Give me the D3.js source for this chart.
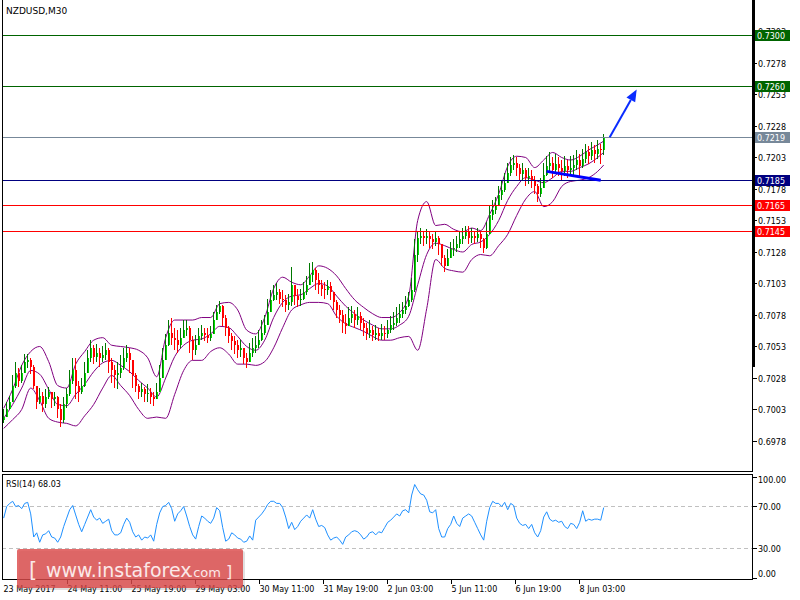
<!DOCTYPE html>
<html><head><meta charset="utf-8">
<script src="https://cdn.jsdelivr.net/npm/d3@7"></script>
<style>
body{margin:0;background:#fff}
svg{display:block}
text{font-family:"DejaVu Sans",sans-serif}
</style>
</head><body><svg id="c" width="800" height="600"></svg>
<script>
// ---------------- DATA ----------------
const symbol = "NZDUSD,M30";
const rsiTitle = "RSI(14) 68.03";
const firstOpen = 0.6995;
// one candle = 3 M30 bars (aggregated), 201 candles
const closes = [
0.6997,0.7003,0.7009,0.7022,0.7032,0.7026,0.7032,0.7041,0.7042,0.7037,
0.7022,0.7009,0.7014,0.7007,0.7013,0.7017,0.7011,0.7013,0.7003,0.6995,
0.7007,0.7015,0.7026,0.7034,0.7022,0.7017,0.7022,0.7032,0.7044,0.7052,
0.7045,0.7048,0.7044,0.7046,0.7050,0.7041,0.7034,0.7030,0.7032,0.7036,
0.7044,0.7048,0.7042,0.7030,0.7022,0.7017,0.7019,0.7015,0.7016,0.7013,
0.7011,0.7017,0.7028,0.7042,0.7054,0.7064,0.7060,0.7058,0.7054,0.7060,
0.7066,0.7068,0.7058,0.7050,0.7054,0.7061,0.7064,0.7062,0.7060,0.7063,
0.7074,0.7080,0.7085,0.7076,0.7068,0.7061,0.7057,0.7054,0.7050,0.7052,
0.7044,0.7041,0.7048,0.7052,0.7054,0.7058,0.7064,0.7070,0.7080,0.7090,
0.7094,0.7096,0.7091,0.7090,0.7086,0.7088,0.7102,0.7093,0.7090,0.7091,
0.7096,0.7102,0.7110,0.7114,0.7106,0.7102,0.7099,0.7098,0.7101,0.7096,
0.7088,0.7082,0.7078,0.7072,0.7069,0.7076,0.7079,0.7074,0.7077,0.7072,
0.7068,0.7064,0.7066,0.7062,0.7064,0.7061,0.7064,0.7063,0.7066,0.7070,
0.7072,0.7076,0.7079,0.7082,0.7085,0.7090,0.7098,0.7126,0.7139,0.7141,
0.7139,0.7141,0.7138,0.7136,0.7139,0.7134,0.7123,0.7117,0.7123,0.7130,
0.7131,0.7134,0.7138,0.7141,0.7144,0.7139,0.7141,0.7139,0.7142,0.7138,
0.7131,0.7142,0.7157,0.7161,0.7165,0.7173,0.7177,0.7183,0.7191,0.7197,
0.7199,0.7195,0.7190,0.7193,0.7187,0.7188,0.7185,0.7180,0.7174,0.7179,
0.7189,0.7196,0.7199,0.7193,0.7198,0.7195,0.7192,0.7196,0.7193,0.7195,
0.7197,0.7201,0.7196,0.7202,0.7207,0.7204,0.7209,0.7206,0.7210,0.7209,0.7219];
const highs = [
0.7003,0.7009,0.7014,0.7030,0.7041,0.7036,0.7038,0.7047,0.7047,0.7044,
0.7038,0.7022,0.7020,0.7017,0.7019,0.7021,0.7017,0.7017,0.7014,0.7007,
0.7013,0.7020,0.7034,0.7044,0.7044,0.7026,0.7028,0.7041,0.7050,0.7058,
0.7054,0.7055,0.7052,0.7053,0.7056,0.7052,0.7044,0.7038,0.7041,0.7046,
0.7052,0.7054,0.7052,0.7042,0.7032,0.7023,0.7024,0.7021,0.7023,0.7020,
0.7017,0.7024,0.7038,0.7052,0.7063,0.7074,0.7076,0.7068,0.7066,0.7068,
0.7074,0.7074,0.7069,0.7061,0.7062,0.7068,0.7070,0.7068,0.7068,0.7069,
0.7080,0.7086,0.7089,0.7086,0.7078,0.7069,0.7064,0.7061,0.7058,0.7058,
0.7052,0.7048,0.7056,0.7060,0.7061,0.7066,0.7074,0.7078,0.7091,0.7098,
0.7102,0.7103,0.7099,0.7098,0.7094,0.7095,0.7116,0.7102,0.7099,0.7099,
0.7104,0.7109,0.7119,0.7120,0.7115,0.7111,0.7106,0.7104,0.7106,0.7104,
0.7096,0.7090,0.7086,0.7082,0.7079,0.7084,0.7085,0.7082,0.7084,0.7080,
0.7076,0.7072,0.7074,0.7069,0.7070,0.7068,0.7071,0.7069,0.7074,0.7077,
0.7080,0.7084,0.7087,0.7088,0.7093,0.7096,0.7107,0.7138,0.7145,0.7147,
0.7145,0.7146,0.7144,0.7142,0.7145,0.7141,0.7133,0.7126,0.7130,0.7136,
0.7138,0.7141,0.7144,0.7147,0.7149,0.7149,0.7147,0.7145,0.7147,0.7144,
0.7139,0.7152,0.7165,0.7169,0.7172,0.7180,0.7185,0.7191,0.7199,0.7203,
0.7205,0.7203,0.7198,0.7199,0.7195,0.7195,0.7193,0.7188,0.7182,0.7187,
0.7199,0.7204,0.7207,0.7203,0.7206,0.7203,0.7201,0.7204,0.7201,0.7204,
0.7205,0.7209,0.7206,0.7210,0.7214,0.7212,0.7215,0.7213,0.7217,0.7214,0.7222];
const lows = [
0.6992,0.6998,0.7003,0.7011,0.7020,0.7021,0.7024,0.7032,0.7036,0.7031,
0.7019,0.7003,0.7007,0.7001,0.7004,0.7011,0.7004,0.7006,0.6996,0.6989,
0.6992,0.7004,0.7014,0.7023,0.7011,0.7009,0.7015,0.7021,0.7032,0.7041,
0.7039,0.7041,0.7037,0.7041,0.7042,0.7032,0.7024,0.7020,0.7019,0.7028,
0.7034,0.7041,0.7032,0.7020,0.7017,0.7011,0.7013,0.7009,0.7009,0.7007,
0.7006,0.7011,0.7019,0.7029,0.7042,0.7053,0.7054,0.7050,0.7048,0.7052,
0.7060,0.7061,0.7048,0.7042,0.7046,0.7056,0.7058,0.7057,0.7056,0.7057,
0.7066,0.7074,0.7079,0.7069,0.7061,0.7056,0.7050,0.7047,0.7044,0.7045,
0.7039,0.7036,0.7041,0.7045,0.7048,0.7052,0.7057,0.7062,0.7072,0.7082,
0.7089,0.7090,0.7087,0.7084,0.7080,0.7082,0.7085,0.7086,0.7084,0.7085,
0.7090,0.7094,0.7102,0.7104,0.7098,0.7095,0.7093,0.7091,0.7094,0.7090,
0.7082,0.7076,0.7072,0.7064,0.7063,0.7069,0.7072,0.7068,0.7070,0.7066,
0.7061,0.7058,0.7060,0.7057,0.7058,0.7057,0.7058,0.7058,0.7060,0.7064,
0.7066,0.7069,0.7072,0.7076,0.7079,0.7084,0.7088,0.7096,0.7120,0.7134,
0.7133,0.7134,0.7131,0.7130,0.7133,0.7126,0.7117,0.7112,0.7118,0.7124,
0.7125,0.7128,0.7131,0.7134,0.7138,0.7134,0.7135,0.7134,0.7136,0.7131,
0.7127,0.7130,0.7149,0.7153,0.7158,0.7166,0.7169,0.7176,0.7183,0.7188,
0.7193,0.7188,0.7184,0.7185,0.7180,0.7182,0.7179,0.7174,0.7168,0.7172,
0.7180,0.7188,0.7191,0.7187,0.7190,0.7188,0.7185,0.7188,0.7187,0.7188,
0.7188,0.7193,0.7188,0.7195,0.7199,0.7198,0.7201,0.7199,0.7202,0.7198,0.7205];
// Bollinger bands, sampled every 3 candles (last sample = last candle)
const bbUpper = [
0.7004,0.7019,0.7038,0.7049,0.7053,0.7041,0.7022,0.7020,0.7039,0.7049,
0.7058,0.7060,0.7054,0.7053,0.7052,0.7050,0.7044,0.7029,0.7060,0.7074,
0.7074,0.7074,0.7076,0.7076,0.7087,0.7088,0.7082,0.7066,0.7063,0.7076,
0.7099,0.7108,0.7104,0.7102,0.7109,0.7117,0.7115,0.7109,0.7099,0.7090,
0.7084,0.7079,0.7076,0.7076,0.7080,0.7093,0.7153,0.7168,0.7149,0.7150,
0.7146,0.7144,0.7147,0.7145,0.7158,0.7174,0.7196,0.7204,0.7203,0.7195,
0.7201,0.7207,0.7203,0.7201,0.7204,0.7209,0.7213,0.7216];
const bbMiddle = [
0.6996,0.7007,0.7020,0.7034,0.7031,0.7019,0.7007,0.7006,0.7015,0.7023,
0.7033,0.7040,0.7042,0.7038,0.7033,0.7026,0.7020,0.7013,0.7028,0.7045,
0.7054,0.7058,0.7059,0.7063,0.7069,0.7068,0.7061,0.7053,0.7050,0.7058,
0.7076,0.7088,0.7093,0.7094,0.7099,0.7103,0.7101,0.7093,0.7085,0.7079,
0.7074,0.7070,0.7067,0.7067,0.7070,0.7077,0.7102,0.7126,0.7135,0.7133,
0.7130,0.7128,0.7134,0.7136,0.7142,0.7153,0.7169,0.7180,0.7187,0.7185,
0.7183,0.7187,0.7192,0.7192,0.7195,0.7198,0.7203,0.7207];
const bbLower = [
0.6988,0.6995,0.7003,0.7020,0.7010,0.6996,0.6993,0.6992,0.6990,0.6998,
0.7007,0.7020,0.7030,0.7022,0.7014,0.7003,0.6996,0.6997,0.6996,0.7015,
0.7034,0.7042,0.7042,0.7049,0.7052,0.7047,0.7039,0.7039,0.7038,0.7041,
0.7052,0.7068,0.7082,0.7086,0.7088,0.7088,0.7087,0.7077,0.7071,0.7068,
0.7065,0.7061,0.7058,0.7058,0.7060,0.7061,0.7050,0.7083,0.7122,0.7115,
0.7113,0.7112,0.7122,0.7126,0.7125,0.7133,0.7142,0.7157,0.7170,0.7176,
0.7164,0.7168,0.7180,0.7184,0.7185,0.7187,0.7192,0.7197];
// RSI(14), one value per candle
const rsi = [
58,69,72,74,69,70,67,72,73,62, 40,44,35,42,43,46,40,39,35,40,
50,58,66,70,61,52,45,52,59,66, 59,56,58,53,55,57,46,42,42,44,
52,58,54,45,40,42,37,40,39,42, 36,52,63,69,70,73,67,55,62,65,
69,60,50,42,38,50,60,58,55,53, 58,68,65,49,36,38,44,42,39,38,
35,36,41,37,56,59,62,66,71,74, 74,72,72,68,59,48,54,47,50,55,
58,61,58,66,57,50,51,49,42,37, 39,40,37,33,40,42,45,46,45,42,
38,40,44,45,42,45,44,49,54,56, 59,62,60,65,66,63,80,90,85,81,
80,75,64,63,66,48,40,40,48,52, 60,53,50,58,60,62,60,54,48,42,
37,55,68,74,72,72,69,73,66,72, 70,58,53,51,52,48,52,44,40,46,
59,64,57,55,56,54,55,50,48,53, 52,48,54,65,55,57,56,57,57,56,68.03];
const priceTicks = [0.6978,0.7003,0.7028,0.7053,0.7078,0.7103,0.7128,0.7153,0.7178,0.7203,0.7228,0.7253,0.7278,0.7303];
const rsiTicks = [100,70,30,0];
const rsiLevels = [70,30];
const timeLabels = ["23 May 2017","24 May 11:00","25 May 19:00","29 May 03:00","30 May 11:00","31 May 19:00","2 Jun 03:00","5 Jun 11:00","6 Jun 19:00","8 Jun 03:00"];
const timeLabelBars = [0,64,128,192,256,320,384,448,512,576]; // M30 bar number
const levelPrices = [0.7300,0.7260,0.7219,0.7185,0.7165,0.7145];
const levelRoles  = ["target","target","last","pivot","support","support"];
const trendCandles = [181,199], trendPrices = [0.7192,0.7185];
const arrowCandles = [202,211], arrowPrices = [0.7219,0.7257];

// ---------------- DRAW ----------------
const svg = d3.select("#c");
const L=2, R=752, T=2, B=471, RT=474, RB=579;
const x = d3.scaleLinear().domain([0,750]).range([2.7,752.7]);   // bar number -> px
const cx = k => x(k*3+1);
const y = d3.scaleLinear().domain([0.695419,0.732641]).range([B,T]);
const yr = d3.scaleLinear().domain([0,100]).range([RB,RT]);
const roleColor = {target:"#006400", last:"#778899", pivot:"#000080", support:"#ff0000"};

const defs = svg.append("defs");
defs.append("clipPath").attr("id","mc").append("rect").attr("x",L).attr("y",0).attr("width",R-L).attr("height",B);

const main = svg.append("g").attr("clip-path","url(#mc)");

// Bollinger bands
const bbT = j => Math.min(j*3, closes.length-1);
const bbLine = d3.line().x((d,j)=>cx(bbT(j))).y(d=>y(d)).curve(d3.curveMonotoneX);
[bbUpper,bbMiddle,bbLower].forEach(arr=>{
  main.append("path").attr("d",bbLine(arr)).attr("fill","none").attr("stroke","#800080").attr("stroke-width",1);
});

// candles
const cg = main.append("g").attr("shape-rendering","crispEdges");
closes.forEach((c,k)=>{
  const o = k===0 ? firstOpen : closes[k-1];
  const hi = Math.max(highs[k],o,c), lo = Math.min(lows[k],o,c);
  const up = c>=o;
  const px = Math.floor(cx(k));
  cg.append("rect").attr("x",px).attr("width",1)
    .attr("y",y(hi)).attr("height",Math.max(1,y(lo)-y(hi)))
    .attr("fill", up ? "#007800" : "#ff0000");
  const bt = y(Math.max(o,c)), bb = y(Math.min(o,c));
  cg.append("rect").attr("x",px+1).attr("width",1)
    .attr("y",bt).attr("height",Math.max(1,bb-bt))
    .attr("fill", up ? "#00e000" : "#ff0000");
});

// horizontal levels
levelPrices.forEach((p,i)=>{
  main.append("line").attr("x1",L).attr("x2",R).attr("y1",Math.round(y(p))+0.5).attr("y2",Math.round(y(p))+0.5)
    .attr("stroke",roleColor[levelRoles[i]]).attr("stroke-width",1);
});

// trend line
main.append("line").attr("x1",cx(trendCandles[0])).attr("y1",y(trendPrices[0]))
  .attr("x2",cx(trendCandles[1])).attr("y2",y(trendPrices[1]))
  .attr("stroke","#0000ff").attr("stroke-width",3);

// arrow
{
  const x1=cx(arrowCandles[0]), y1=y(arrowPrices[0]), x2=cx(arrowCandles[1]), y2=y(arrowPrices[1]);
  const dx=x2-x1, dy=y2-y1, len=Math.hypot(dx,dy), ux=dx/len, uy=dy/len;
  const hl=12, hw=5;
  const bx=x2-ux*hl, by=y2-uy*hl;
  main.append("line").attr("x1",x1).attr("y1",y1).attr("x2",bx).attr("y2",by)
    .attr("stroke","#0a2cff").attr("stroke-width",2);
  main.append("path").attr("d",`M${x2},${y2}L${bx-uy*hw},${by+ux*hw}L${bx+uy*hw},${by-ux*hw}Z`).attr("fill","#0a2cff");
}

// title
svg.append("text").attr("x",6).attr("y",14).attr("font-size",9).attr("fill","#000").text(symbol);

// frame main
const fr = svg.append("g").attr("shape-rendering","crispEdges");
fr.append("line").attr("x1",L+0.5).attr("x2",L+0.5).attr("y1",0).attr("y2",B+0.5).attr("stroke","#000");
fr.append("line").attr("x1",L).attr("x2",R+1).attr("y1",B+0.5).attr("y2",B+0.5).attr("stroke","#000");
fr.append("line").attr("x1",R+0.5).attr("x2",R+0.5).attr("y1",0).attr("y2",B+0.5).attr("stroke","#000");
fr.append("rect").attr("x",R).attr("y",0).attr("width",3).attr("height",367).attr("fill","#000");

// price axis
priceTicks.forEach(p=>{
  const yy=Math.round(y(p))+0.5;
  fr.append("line").attr("x1",R).attr("x2",R+5).attr("y1",yy).attr("y2",yy).attr("stroke","#000");
  svg.append("text").attr("x",R+6).attr("y",yy+3).attr("font-size",8).attr("fill","#000").text(p.toFixed(4));
});
levelPrices.forEach((p,i)=>{
  const yy=Math.round(y(p));
  svg.append("rect").attr("x",R+3).attr("y",yy-5).attr("width",35).attr("height",11).attr("fill",roleColor[levelRoles[i]]);
  svg.append("text").attr("x",R+5).attr("y",yy+3.5).attr("font-size",8).attr("fill","#fff").text(p.toFixed(4));
});

// RSI panel
const rp = svg.append("g");
rsiLevels.forEach(v=>{
  rp.append("line").attr("x1",L).attr("x2",R).attr("y1",Math.round(yr(v))+0.5).attr("y2",Math.round(yr(v))+0.5)
    .attr("stroke","#c0c0c0").attr("stroke-dasharray","4,3");
});
rp.append("path").attr("d",d3.line().x((d,i)=>cx(i)).y(d=>yr(d))(rsi))
  .attr("fill","none").attr("stroke","#1e90ff").attr("stroke-width",1);
rp.append("rect").attr("x",L+0.5).attr("y",RT+0.5).attr("width",R-L).attr("height",RB-RT)
  .attr("fill","none").attr("stroke","#000").attr("shape-rendering","crispEdges");
rp.append("text").attr("x",6).attr("y",487).attr("font-size",8).attr("fill","#000").text(rsiTitle);
rsiTicks.forEach(v=>{
  const yy=Math.round(yr(v))+0.5;
  rp.append("line").attr("x1",R).attr("x2",R+5).attr("y1",Math.min(Math.max(yy,RT+3),RB-1)).attr("y2",Math.min(Math.max(yy,RT+3),RB-1)).attr("stroke","#000").attr("shape-rendering","crispEdges");
  const ty=Math.min(Math.max(yy,480),574);
  rp.append("text").attr("x",R+6).attr("y",ty+3).attr("font-size",8).attr("fill","#000").text(v.toFixed(2));
});

// time axis
timeLabels.forEach((t,i)=>{
  const xx=Math.round(x(timeLabelBars[i]))+0.5;
  if(i>0) svg.append("line").attr("x1",xx).attr("x2",xx).attr("y1",RB).attr("y2",RB+5).attr("stroke","#000").attr("shape-rendering","crispEdges");
  svg.append("text").attr("x",xx).attr("y",592).attr("font-size",8).attr("fill","#000").text(t);
});

// watermark
const wm = svg.append("g");
wm.append("rect").attr("x",19).attr("y",551).attr("width",226).attr("height",39).attr("rx",2).attr("fill","#000").attr("opacity",0.12);
wm.append("rect").attr("x",17).attr("y",549).attr("width",226).attr("height",39).attr("rx",2).attr("fill","#dc4a4a").attr("opacity",0.82);
const wmFont = "Liberation Sans, Arial, sans-serif";
const wmParts = [
  {t:"[", x:29, s:21},
  {t:"www.instaforex", x:46, s:19},
  {t:".com", x:189, s:13},
  {t:"]", x:226, s:16}
];
wmParts.forEach(p=>{
  wm.append("text").attr("x",p.x).attr("y",577).attr("font-family",wmFont).attr("font-size",p.s).attr("fill","#fbe8e8").text(p.t);
});
</script>
</body></html>
